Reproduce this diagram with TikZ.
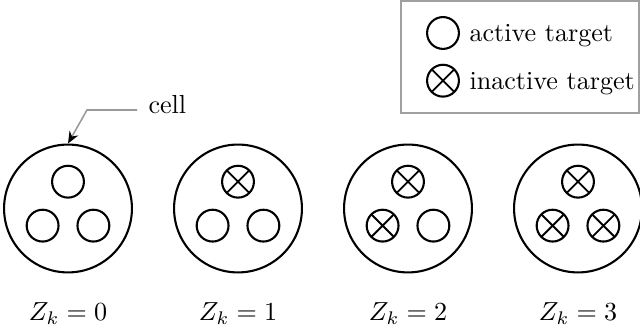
\documentclass[tikz,border=0pt]{standalone}
\usepackage{amsmath}
\usepackage{xcolor}
\usepackage{tikz}
\usetikzlibrary{arrows.meta,positioning}
\definecolor{leadergray}{HTML}{9A9A9A}
\definecolor{framegray}{HTML}{A0A0A0}

\begin{document}
\begin{tikzpicture}[
    x=0.3832pt, y=0.3832pt,
    cellcirc/.style={circle, draw, line width=0.8pt, minimum size=49pt, inner sep=0pt},
    target/.style={circle, draw, line width=0.8pt, minimum size=12.2pt, inner sep=0pt},
    offtarget/.style={target, path picture={\draw[line width=0.7pt] (path picture bounding box.south west) -- (path picture bounding box.north east) (path picture bounding box.north west) -- (path picture bounding box.south east);}},
    legendtext/.style={anchor=base west, inner sep=0pt},
    leader/.style={draw=leadergray, line width=0.6pt, -{Stealth[length=4.6pt, width=3.8pt, black]}}
]
    \useasboundingbox (0,0) rectangle (640,336);

    % Legend
    \draw[framegray, line width=0.8pt] (401,335) rectangle (639,223);
    \node[target] (legactive) at (443,303) {};
    \node[legendtext] (legactivetxt) at (469,294.3) {active target};
    \node[offtarget] (leginactive) at (443,255.3) {};
    \node[legendtext] (leginactivetxt) at (469,246.6) {inactive target};

    % Cells: in cell k the first k targets are inactive
    \foreach \k/\sa/\sb/\sc in {0/target/target/target, 1/offtarget/target/target, 2/offtarget/offtarget/target, 3/offtarget/offtarget/offtarget} {
        \node[cellcirc] (cell\k) at (68+170*\k,127.5) {};
        \node[\sa] (top\k) at (68+170*\k,154.3) {};
        \node[\sb] (left\k) at (42.6+170*\k,110.35) {};
        \node[\sc] (right\k) at (93.4+170*\k,110.35) {};
        \node[anchor=base] (zlab\k) at (68+170*\k,15) {$Z_k = \k$};
    }

    % Cell callout
    \node[legendtext] (celllabel) at (148,222) {cell};
    \coordinate (bend) at (87,226);
    \draw[leader] ([shift={(-11,4)}]celllabel.base west) -- (bend) -- (cell0.north);
\end{tikzpicture}
\end{document}
